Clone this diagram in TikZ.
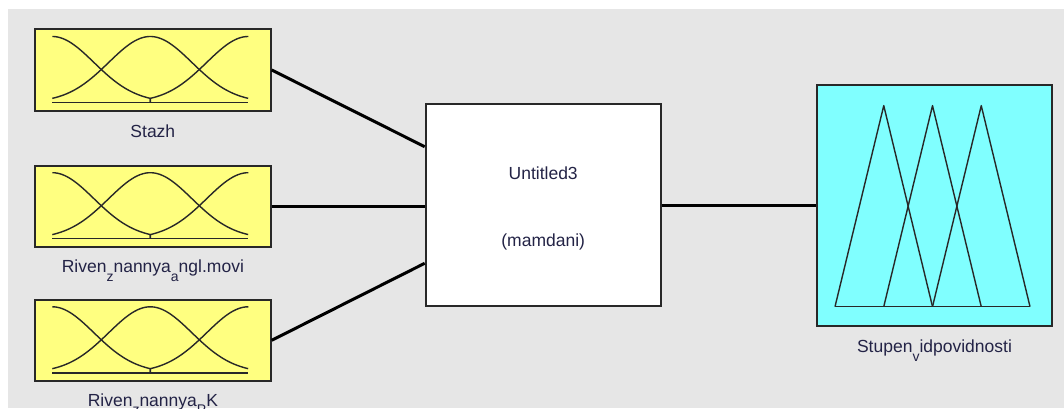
\documentclass[tikz,border=0pt]{standalone}
\usepackage{fontspec}
\setmainfont{Liberation Sans}
\definecolor{bggray}{RGB}{230,230,230}
\definecolor{inyellow}{RGB}{255,255,128}
\definecolor{outcyan}{RGB}{128,255,255}
\definecolor{edgedark}{RGB}{40,40,40}
\definecolor{txtdark}{RGB}{35,35,70}
\newcommand\lsub[1]{\raisebox{-0.5em}{\fontsize{14}{14}\selectfont #1}}
\newcommand\mfinputs[1]{%
  \begin{scope}[shift={([shift={(18.3pt,9pt)}]#1.south west)},xscale=196,yscale=66,mfline]
    \draw plot[domain=0:0.5,samples=40,smooth] (\x,{exp(-1*(\x)*(\x)/0.09014)}) -- (0.5,0);
    \draw plot[domain=0:1,samples=70,smooth] (\x,{exp(-1*(\x-0.5)*(\x-0.5)/0.09014)});
    \draw (0.5,0) -- plot[domain=0.5:1,samples=40,smooth] (\x,{exp(-1*(\x-1)*(\x-1)/0.09014)});
    \draw (0,0) -- (1,0);
  \end{scope}}
\tikzset{
  inbox/.style={draw=edgedark,line width=2pt,fill=inyellow,minimum width=235.7pt,minimum height=81pt,inner sep=0pt},
  rulebox/.style={draw=edgedark,line width=2pt,fill=white,minimum width=235pt,minimum height=201.4pt,inner sep=0pt},
  outbox/.style={draw=edgedark,line width=2pt,fill=outcyan,minimum width=234.4pt,minimum height=241.7pt,inner sep=0pt},
  lbl/.style={text=txtdark,font=\fontsize{17.5}{20}\selectfont,inner sep=0pt,anchor=base},
  conn/.style={line width=3pt,black},
  mfline/.style={line width=1.4pt,draw=edgedark,line join=round}
}
\begin{document}
\begin{tikzpicture}[x=1pt,y=1pt]
\useasboundingbox (0,0) rectangle (1064,408);
\clip (0,0) rectangle (1064,408);
\fill[white] (0,0) rectangle (1064,408);
\fill[bggray] (8,0) rectangle (1064,399);
% input boxes
\node[inbox] (in1) at (152.85,338) {};
\node[inbox] (in2) at (152.85,201.8) {};
\node[inbox] (in3) at (152.85,67.7) {};
\mfinputs{in1}
\mfinputs{in2}
\mfinputs{in3}
% rule box
\node[rulebox] (mid) at (543.2,203) {};
\node[lbl] (t1) at (543.2,228.7) {Untitled3};
\node[lbl] (t2) at (543.2,162) {(mamdani)};
% output box
\node[outbox] (out) at (934.5,202.5) {};
\begin{scope}[shift={([shift={(18.7pt,20.7pt)}]out.south west)},xscale=195,yscale=201,mfline]
  \draw (0,0) -- (0.25,1) -- (0.5,0);
  \draw (0.25,0) -- (0.5,1) -- (0.75,0);
  \draw (0.5,0) -- (0.75,1) -- (1,0);
  \draw (0,0) -- (1,0);
\end{scope}
% labels
\node[lbl] (l1) at (152.85,270.5) {Stazh};
\node[lbl] (l2) at (152.85,135.7) {Riven\lsub{z}nannya\lsub{a}ngl.movi};
\node[lbl] (l3) at (152.85,2) {Riven\lsub{z}nannya\lsub{P}K};
\node[lbl] (l4) at (934.5,55.3) {Stupen\lsub{v}idpovidnosti};
% connectors
\draw[conn] (in1.east) -- ([yshift=58.3pt]mid.west);
\draw[conn] (in2.east) -- (in2.east -| mid.west);
\draw[conn] (in3.east) -- ([yshift=-58.3pt]mid.west);
\draw[conn] (mid.east) -- (mid.east -| out.west);
\end{tikzpicture}
\end{document}
